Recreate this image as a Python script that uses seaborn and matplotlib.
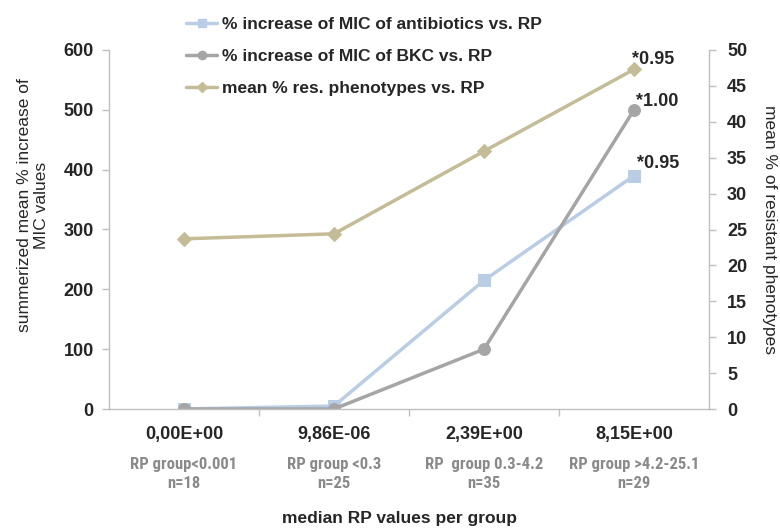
import matplotlib
matplotlib.use('Agg')
import matplotlib.pyplot as plt
import matplotlib.transforms as mtransforms
from matplotlib.lines import Line2D
import seaborn as sns
import pandas as pd

# ---- data ----
median_rp = ['0,00E+00', '9,86E-06', '2,39E+00', '8,15E+00']
group_names = ['RP group<0.001', 'RP group <0.3', 'RP  group 0.3-4.2', 'RP group >4.2-25.1']
group_n = ['n=18', 'n=25', 'n=35', 'n=29']
mic_antibiotics = [0, 5, 215, 390]
mic_bkc = [0, 0, 100, 500]
res_phenotypes = [23.7, 24.4, 35.9, 47.3]
end_labels_antibiotics = '*0.95'
end_labels_bkc = '*1.00'
end_labels_pheno = '*0.95'
series_names = ['% increase of MIC of antibiotics vs. RP',
                '% increase of MIC of BKC vs. RP',
                'mean % res. phenotypes vs. RP']

# ---- style ----
sns.set_theme(style='white')
plt.rcParams['font.family'] = ['Liberation Sans', 'DejaVu Sans']
NARROW = ['Liberation Sans Narrow', 'Arial Narrow', 'Roboto Condensed', 'Archivo Narrow',
          'Liberation Sans', 'DejaVu Sans']
C_BLUE = '#B9CDE5'
C_GRAY = '#A5A5A5'
C_KHAKI = '#C4BC96'
C_SPINE = '#BFBFBF'
C_GROUP = '#8A8A8A'

W, H = 780, 529
fig = plt.figure(figsize=(W / 100, H / 100), dpi=100)
ax = fig.add_axes([109 / W, 1 - 409 / H, 600 / W, 359 / H])
ax2 = ax.twinx()

df = pd.DataFrame({'median': median_rp, 'abx': mic_antibiotics,
                   'bkc': mic_bkc, 'pheno': res_phenotypes})

lw = 2.5
sns.lineplot(data=df, x='median', y='abx', ax=ax, color=C_BLUE, linewidth=lw,
             marker='s', markersize=8.5, markeredgecolor=C_BLUE, sort=False)
sns.lineplot(data=df, x='median', y='bkc', ax=ax, color=C_GRAY, linewidth=lw,
             marker='o', markersize=8.5, markeredgecolor=C_GRAY, sort=False)
sns.lineplot(data=df, x='median', y='pheno', ax=ax2, color=C_KHAKI, linewidth=lw,
             marker='D', markersize=7.5, markeredgecolor=C_KHAKI, sort=False)

n = len(median_rp)
ax.set_xlim(-0.5, n - 0.5)
ax.set_ylim(0, 600)
ax2.set_ylim(0, 50)
ax.set_yticks(range(0, 601, 100))
ax2.set_yticks(range(0, 51, 5))
ax.set_xticks(range(n))
ax.set_xticklabels(median_rp, fontsize=13, fontweight='bold')
ax.set_xticks([i + 0.5 for i in range(n - 1)], minor=True)
ax.tick_params(axis='x', which='major', length=0, pad=12)
ax.tick_params(axis='x', which='minor', bottom=True, length=5, color=C_SPINE, width=1)
ax.tick_params(axis='y', left=True, length=5, color=C_SPINE, width=1, pad=6, labelsize=13)
ax2.tick_params(axis='y', right=True, length=5, color=C_SPINE, width=1, pad=8, labelsize=13)
for a in (ax, ax2):
    for lab in a.get_yticklabels():
        lab.set_fontweight('bold')
    a.set_xlabel('')
    a.set_ylabel('')
    a.grid(False)
    a.spines['top'].set_visible(False)
    for s in ('left', 'right', 'bottom'):
        a.spines[s].set_color(C_SPINE)
        a.spines[s].set_linewidth(1)
ax.spines['right'].set_visible(False)
ax2.spines['left'].set_visible(False)
ax2.spines['bottom'].set_visible(False)

# group labels under tick labels (narrow font, size fitted to reference width)
trans = mtransforms.blended_transform_factory(ax.transData, fig.transFigure)
renderer = fig.canvas.get_renderer()
probe = fig.text(0, 0, group_names[0], fontsize=12, fontweight='bold', family=NARROW)
pw = probe.get_window_extent(renderer).width
probe.remove()
gsize = min(13.5, 12 * 107.0 / pw)
for i in range(n):
    ax.text(i, 1 - 465 / H, group_names[i], transform=trans, ha='center', va='center',
            fontsize=gsize, fontweight='bold', color=C_GROUP, family=NARROW)
    ax.text(i, 1 - 484 / H, group_n[i], transform=trans, ha='center', va='center',
            fontsize=gsize, fontweight='bold', color=C_GROUP, family=NARROW)

# end annotations
last = n - 1
ax.annotate(end_labels_antibiotics, (last, mic_antibiotics[last]), xytext=(3, 8),
            textcoords='offset pixels', ha='left', va='baseline', fontsize=13, fontweight='bold')
ax.annotate(end_labels_bkc, (last, mic_bkc[last]), xytext=(2, 4),
            textcoords='offset pixels', ha='left', va='baseline', fontsize=13, fontweight='bold')
ax2.annotate(end_labels_pheno, (last, res_phenotypes[last]), xytext=(-2, 5),
             textcoords='offset pixels', ha='left', va='baseline', fontsize=13, fontweight='bold')

# axis titles
fig.text(33 / W, 1 - 205 / H, 'summerized mean % increase of\nMIC values', rotation=90,
         ha='center', va='center', multialignment='center', fontsize=12.5, linespacing=1.2)
fig.text(770 / W, 1 - 230 / H, 'mean % of resistant phenotypes', rotation=-90,
         ha='center', va='center', fontsize=12.5)
fig.text(400 / W, 1 - 519 / H, 'median RP values per group', ha='center', va='center',
         fontsize=12.5, fontweight='bold')

# legend
handles = [Line2D([], [], color=C_BLUE, lw=lw, marker='s', markersize=6, markeredgecolor=C_BLUE),
           Line2D([], [], color=C_GRAY, lw=lw, marker='o', markersize=6, markeredgecolor=C_GRAY),
           Line2D([], [], color=C_KHAKI, lw=lw, marker='D', markersize=5, markeredgecolor=C_KHAKI)]
leg = fig.legend(handles, series_names, loc='upper left', bbox_to_anchor=(186 / W, 1 - 17 / H),
                 frameon=False, handlelength=1.8, handletextpad=0.3, labelspacing=0.98,
                 prop={'size': 12.5, 'weight': 'bold'}, borderaxespad=0, borderpad=0)

fig.savefig('out.png', dpi=100)
